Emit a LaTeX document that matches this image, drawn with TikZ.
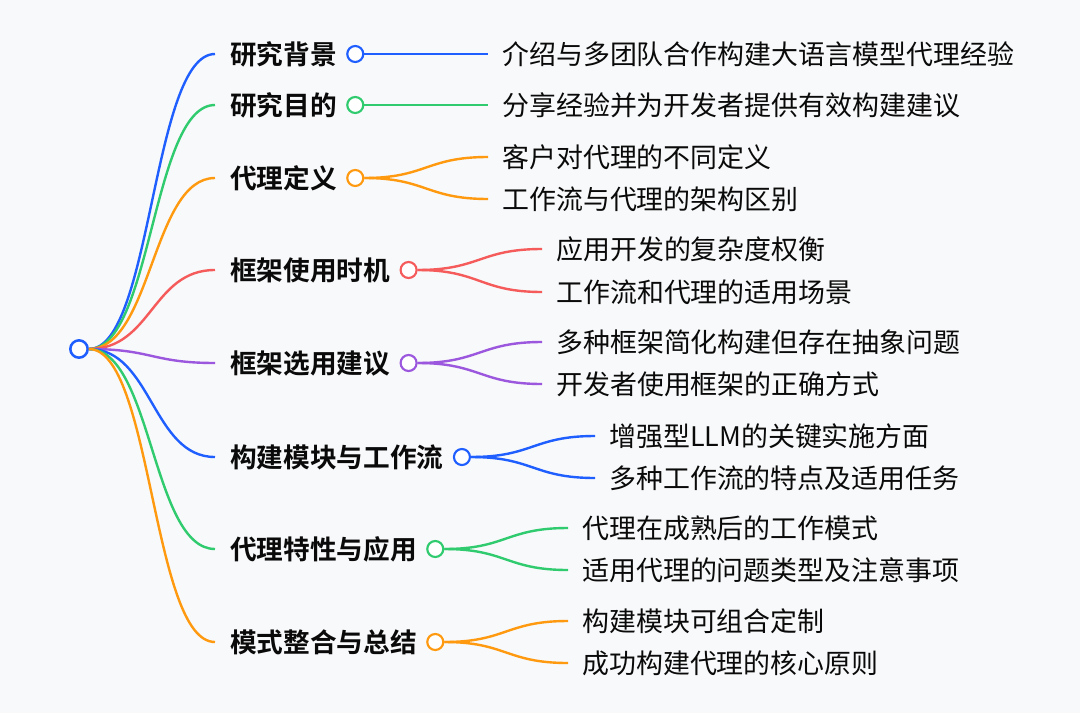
\documentclass[tikz,border=0pt]{standalone}
\usepackage{fontspec}
\setmainfont{Noto Sans CJK SC}[BoldFont={Noto Sans CJK SC Bold}]
\usetikzlibrary{positioning,calc}
\definecolor{mblue}{HTML}{1F5EFF}
\definecolor{mgreen}{HTML}{2FCB6E}
\definecolor{morange}{HTML}{FF9A10}
\definecolor{mred}{HTML}{F55B5B}
\definecolor{mpurple}{HTML}{9B57DD}
\definecolor{ink}{HTML}{0A0A0A}
\definecolor{paper}{HTML}{F8F9FA}
\tikzset{
  cat/.style={font=\bfseries\fontsize{20}{24}\selectfont, text=ink, anchor=west, inner sep=0pt},
  leaf/.style={font=\fontsize{20.2}{24}\selectfont, text=ink, anchor=west, inner sep=0pt},
  dot/.style={circle, draw=#1, fill=white, line width=1.6pt, minimum size=12pt, inner sep=0pt},
  link/.style={draw=#1, line width=1.8pt, to path={
    let \p1=(\tikztostart), \p2=(\tikztotarget) in
    .. controls ({0.5*\x1+0.5*\x2},\y1) and ({0.5*\x1+0.5*\x2},\y2) .. (\tikztotarget)}},
}
\begin{document}
\begin{tikzpicture}[x=0.75pt, y=-0.75pt]
\fill[paper] (0,0) rectangle (1080,713);
\useasboundingbox (0,0) rectangle (1080,713);

\node[dot=mblue, minimum size=13pt, line width=1.9pt] (root) at (79,349) {};

% first level
\node[cat] (cat1) at (230,54)  {研究背景};
\node[cat] (cat2) at (230,105) {研究目的};
\node[cat] (cat3) at (230,178) {代理定义};
\node[cat] (cat4) at (230,270) {框架使用时机};
\node[cat] (cat5) at (230,363) {框架选用建议};
\node[cat] (cat6) at (230,457) {构建模块与工作流};
\node[cat] (cat7) at (230,549) {代理特性与应用};
\node[cat] (cat8) at (230,642) {模式整合与总结};
\foreach \k/\c in {1/mblue,2/mgreen,3/morange,4/mred,5/mpurple,6/mblue,7/mgreen,8/morange}{
  \node[dot=\c, right=6.75pt of cat\k] (dot\k) {};
  \coordinate[left=11.25pt of cat\k] (e\k);
}

% second level
\node[leaf] (l1a) at (502,54)  {介绍与多团队合作构建大语言模型代理经验};
\node[leaf] (l2a) at (502,105) {分享经验并为开发者提供有效构建建议};
\node[leaf] (l3a) at (502,157) {客户对代理的不同定义};
\node[leaf] (l3b) at (502,199) {工作流与代理的架构区别};
\node[leaf] (l4a) at (556,249) {应用开发的复杂度权衡};
\node[leaf] (l4b) at (556,292) {工作流和代理的适用场景};
\node[leaf] (l5a) at (556,342) {多种框架简化构建但存在抽象问题};
\node[leaf] (l5b) at (556,384) {开发者使用框架的正确方式};
\node[leaf] (l6a) at (609,436) {增强型LLM的关键实施方面};
\node[leaf] (l6b) at (609,478) {多种工作流的特点及适用任务};
\node[leaf] (l7a) at (582,528) {代理在成熟后的工作模式};
\node[leaf] (l7b) at (582,570) {适用代理的问题类型及注意事项};
\node[leaf] (l8a) at (582,621) {构建模块可组合定制};
\node[leaf] (l8b) at (582,663) {成功构建代理的核心原则};
\foreach \n in {1a,2a,3a,3b,4a,4b,5a,5b,6a,6b,7a,7b,8a,8b}
  \coordinate[left=10.5pt of l\n] (f\n);

\foreach \k/\c in {1/mblue,2/mgreen,3/morange,4/mred,5/mpurple,6/mblue,7/mgreen,8/morange}
  {\draw[link=\c] (root.east) to (e\k);}
\draw[link=mblue] (dot1.east) to (f1a);
\draw[link=mgreen] (dot2.east) to (f2a);
\foreach \k/\c in {3/morange,4/mred,5/mpurple,6/mblue,7/mgreen,8/morange}
  {\foreach \s in {a,b} {\draw[link=\c] (dot\k.east) to (f\k\s);}}
\end{tikzpicture}
\end{document}
